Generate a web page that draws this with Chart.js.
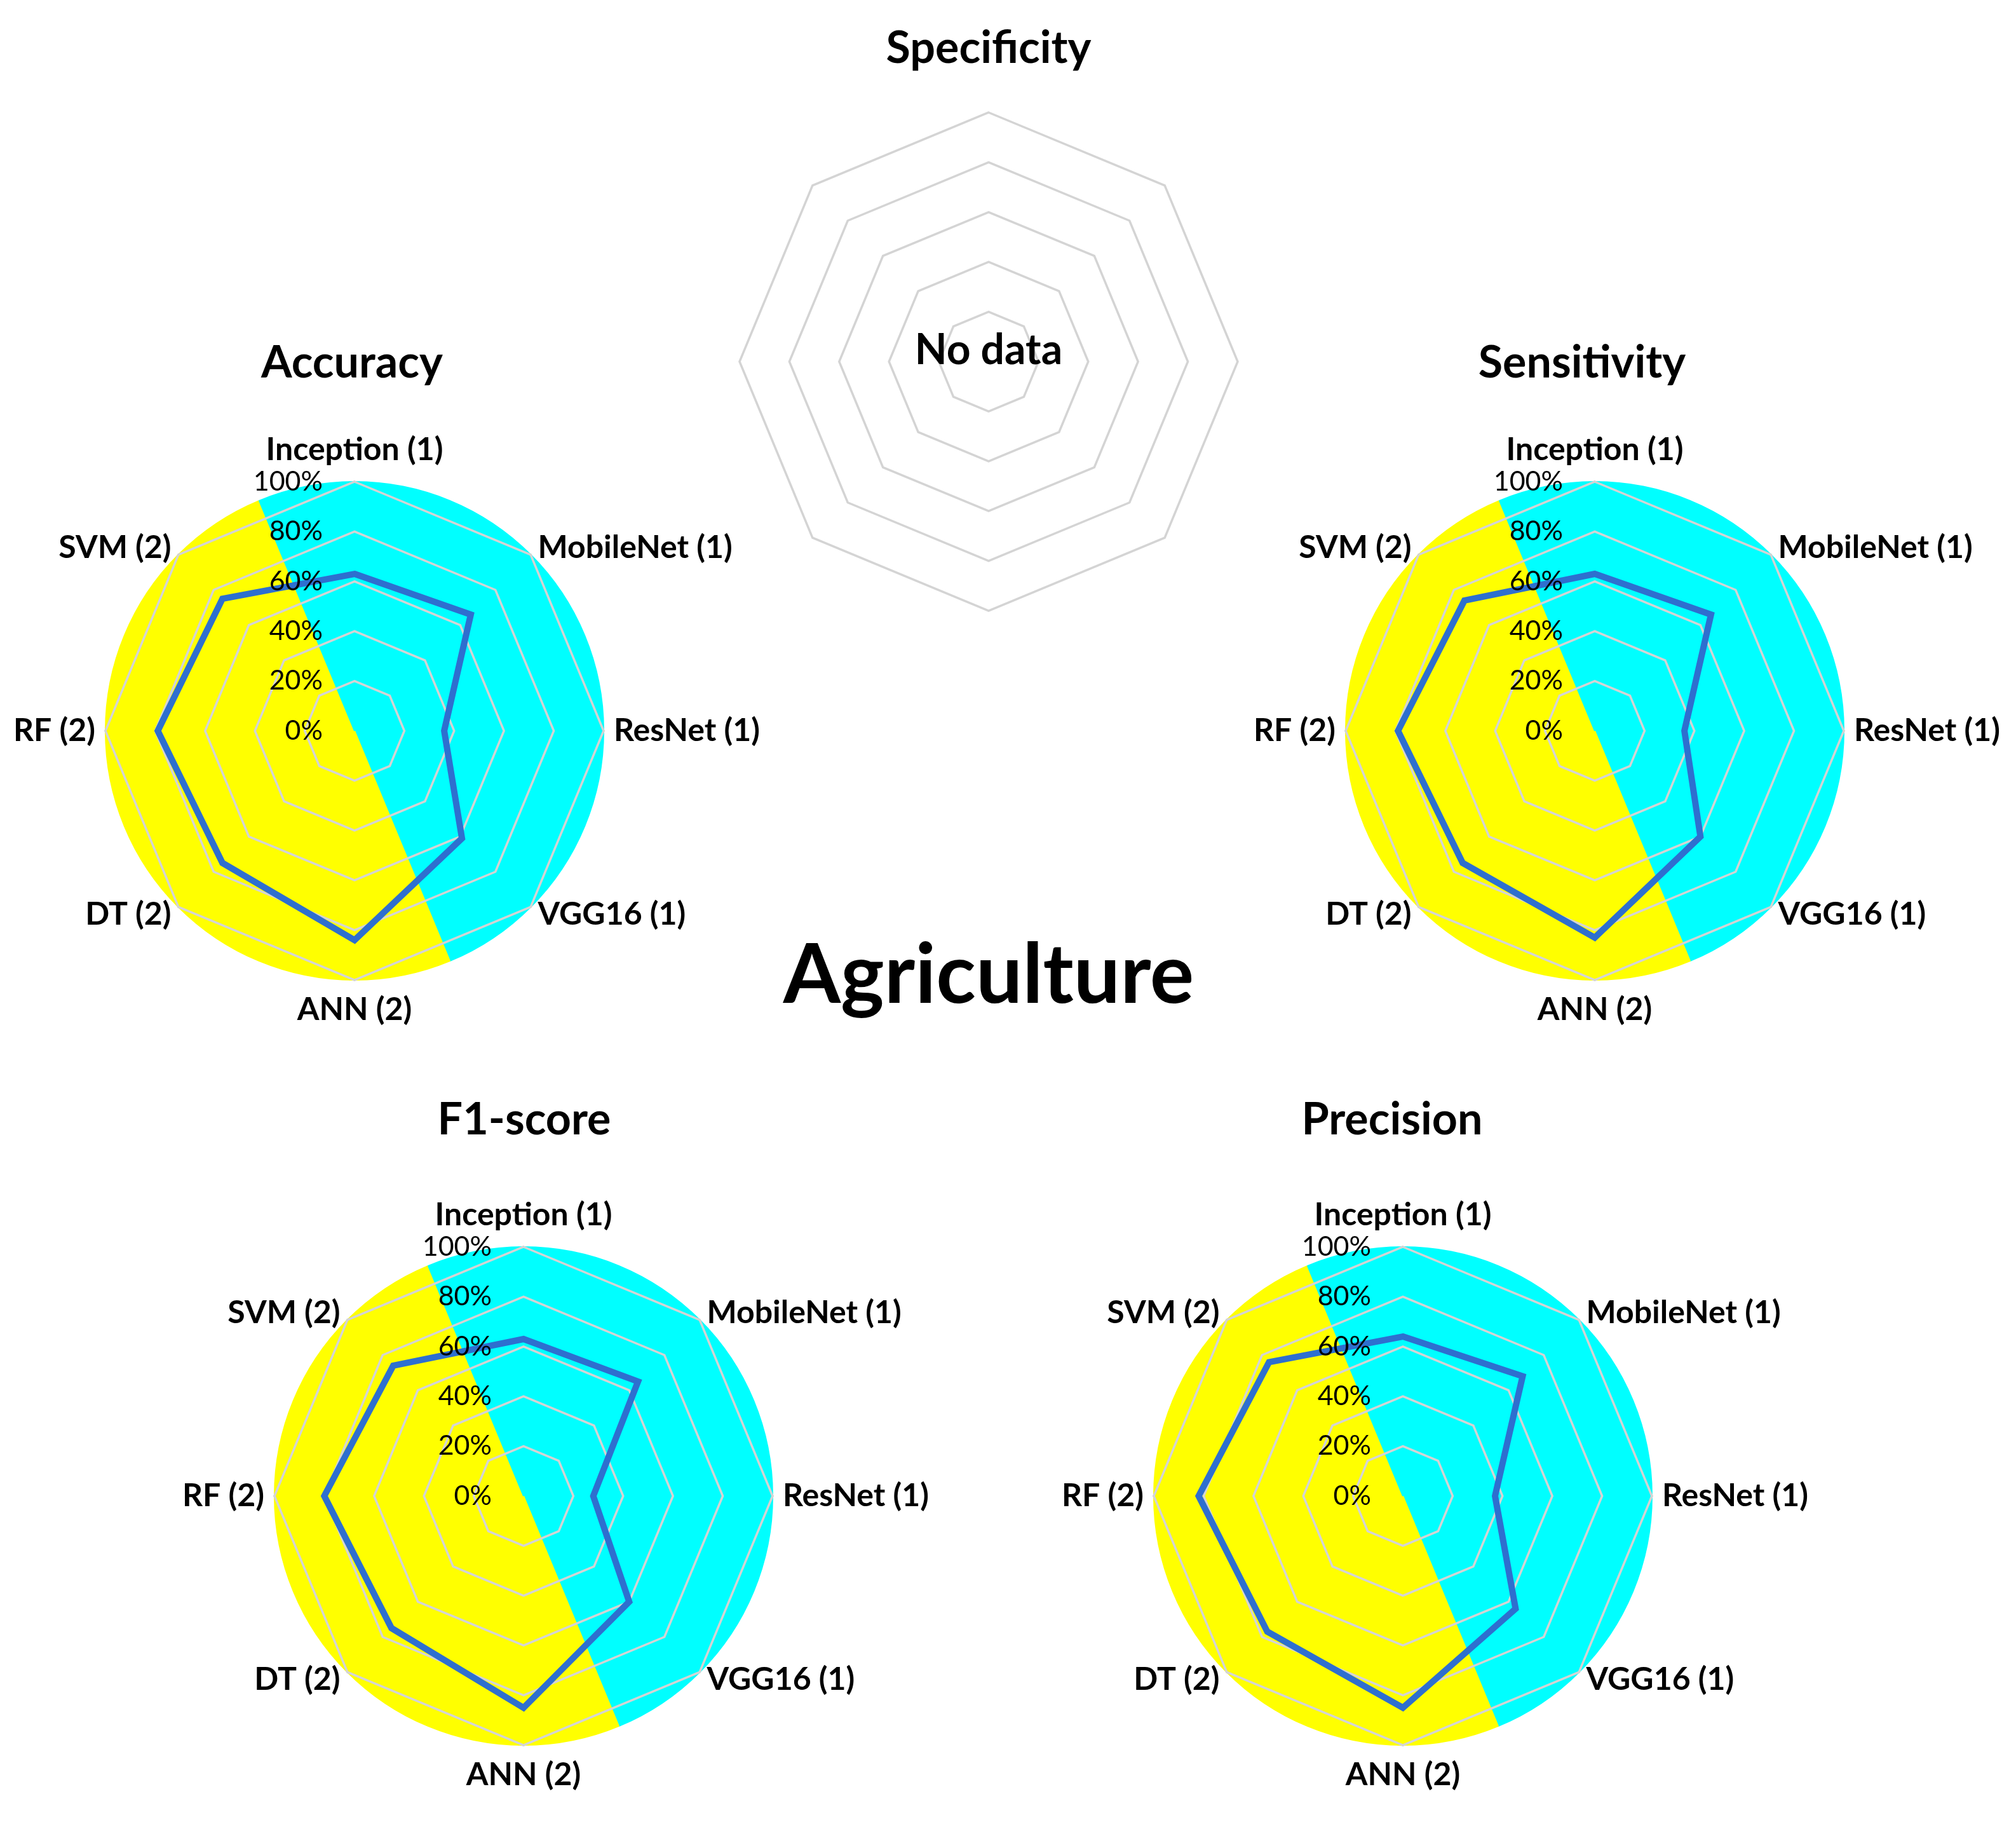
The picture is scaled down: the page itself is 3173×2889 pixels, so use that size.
<!DOCTYPE html>
<html>
<head>
<meta charset="utf-8">
<title>Agriculture</title>
<script src="https://cdn.jsdelivr.net/npm/chart.js@4.4.1/dist/chart.umd.min.js"></script>
<style>
  html, body { margin: 0; padding: 0; background: #fff; }
  #page { position: relative; width: 3173px; height: 2889px; overflow: hidden; background: #fff;
          font-family: Lato, "Open Sans", sans-serif; color: #000; }
  .box { position: absolute; left: 0; top: 0; }
  .label { position: absolute; transform: translate(-50%, -50%); white-space: nowrap;
           font-weight: 700; line-height: 1.2; }
  .title { font-size: 70px; }
  #main { font-size: 130px; }
  #nodata { font-size: 66px; }
</style>
</head>
<body>
<div id="page">
  <div class="box"><canvas id="specificity" width="1600" height="1200"></canvas></div>
  <div class="box"><canvas id="accuracy" width="1600" height="1200"></canvas></div>
  <div class="box"><canvas id="sensitivity" width="1600" height="1200"></canvas></div>
  <div class="box"><canvas id="f1score" width="1600" height="1200"></canvas></div>
  <div class="box"><canvas id="precision" width="1600" height="1200"></canvas></div>

  <div class="label title" style="left:1556px; top:72px;">Specificity</div>
  <div class="label" id="nodata" style="left:1556px; top:548px;">No data</div>
  <div class="label title" style="left:554px; top:567px;">Accuracy</div>
  <div class="label title" style="left:2490px; top:567px;">Sensitivity</div>
  <div class="label title" style="left:825px; top:1758px;">F1-score</div>
  <div class="label title" style="left:2191px; top:1758px;">Precision</div>
  <div class="label" id="main" style="left:1556px; top:1528px;">Agriculture</div>
</div>

<script>
// models on the radar axes, clockwise from the top; (1) deep learning, (2) classic ML
const models = ['Inception (1)', 'MobileNet (1)', 'ResNet (1)', 'VGG16 (1)',
                'ANN (2)', 'DT (2)', 'RF (2)', 'SVM (2)'];
const modelGroups = [1, 1, 1, 1, 2, 2, 2, 2];

// scores in %
const accuracy    = [63, 66, 36, 61, 84, 75, 79, 75];
const sensitivity = [63, 66, 36, 60, 83, 75, 79, 74];
const f1Score     = [63, 65, 28, 60, 85, 75, 80, 74];
const precision   = [64, 68, 37, 64, 85, 77, 82, 76];
const specificity = []; // no data reported

const scaleMin = 0;
const scaleMax = 100;
const scaleStep = 20;

const RADIUS = 392;
const groupColors = { 1: '#00FFFF', 2: '#FFFF00' };
const lineColor = '#2E6FCF';
const gridColor = '#D4D4D4';

const panels = [
    { id: 'specificity', values: specificity, cx: 1556, cy: 569, labelled: false },
    { id: 'accuracy', values: accuracy, cx: 558, cy: 1150, labelled: true },
    { id: 'sensitivity', values: sensitivity, cx: 2510, cy: 1150, labelled: true },
    { id: 'f1score', values: f1Score, cx: 824, cy: 2354, labelled: true },
    { id: 'precision', values: precision, cx: 2208, cy: 2354, labelled: true }
];

// tick labels sit right-aligned just left of the vertical axis, like Excel does it
const tickLabels = {
    id: 'tickLabels',
    afterDatasetsDraw(chart, args, opts) {
        if (!opts.display) return;
        const scale = chart.scales.r;
        const ctx = chart.ctx;
        ctx.save();
        ctx.font = opts.font;
        ctx.fillStyle = opts.color;
        ctx.textAlign = 'right';
        ctx.textBaseline = 'middle';
        scale.ticks.forEach(tick => {
            const y = scale.yCenter - scale.getDistanceFromCenterForValue(tick.value);
            ctx.fillText(tick.label, scale.xCenter - opts.gap, y);
        });
        ctx.restore();
    }
};

// redraw the rings on top of the coloured disc but under the score line
const gridOverDisc = {
    id: 'gridOverDisc',
    beforeDatasetDraw(chart, args) {
        if (args.meta.type !== 'radar') return;
        const scale = chart.scales.r;
        const pointLabels = scale.options.pointLabels;
        const shown = pointLabels.display;
        try {
            pointLabels.display = false;
            scale.drawGrid(chart.chartArea);
        } finally {
            pointLabels.display = shown;
        }
    }
};

// one wedge per model centred on its axis; the top wedge is split in two halves
function discDataset() {
    const owners = models.map((m, i) => i).concat([0]);
    const wedge = 360 / models.length;
    const colour = ctx => groupColors[modelGroups[owners[ctx.dataIndex]]];
    return {
        type: 'polarArea',
        order: 2,
        data: owners.map(() => scaleMax),
        angle: ctx => (ctx.dataIndex === 0 || ctx.dataIndex === models.length) ? wedge / 2 : wedge,
        backgroundColor: colour,
        borderColor: colour,
        borderWidth: 2
    };
}

// labels are centred on their anchor (zero line height), so top and bottom need more room
function labelPadding(ctx) {
    const quarter = models.length / 4;
    return ctx.index % (2 * quarter) === 0 ? (ctx.index === 0 ? 50 : 47) : 16;
}

function buildChart(panel) {
    const datasets = [];
    if (panel.values.length) {
        datasets.push({
            label: panel.id,
            order: 1,
            data: panel.values,
            borderColor: lineColor,
            borderWidth: 10,
            backgroundColor: 'transparent',
            fill: false,
            pointRadius: 0,
            tension: 0
        });
        datasets.push(discDataset());
    }

    const ctx = document.getElementById(panel.id).getContext('2d');
    const chart = new Chart(ctx, {
        type: 'radar',
        data: { labels: models, datasets },
        options: {
            responsive: false,
            animation: false,
            events: [],
            layout: { padding: 100 },
            plugins: {
                legend: { display: false },
                tooltip: { enabled: false },
                tickLabels: {
                    display: panel.labelled,
                    gap: 50,
                    font: '400 43px Lato',
                    color: '#000'
                }
            },
            scales: {
                r: {
                    min: scaleMin,
                    max: scaleMax,
                    startAngle: 0,
                    ticks: {
                        stepSize: scaleStep,
                        display: false,
                        callback: v => v + '%'
                    },
                    grid: { color: gridColor, lineWidth: 3.5, circular: false },
                    angleLines: { display: false },
                    pointLabels: {
                        display: panel.labelled,
                        color: '#000',
                        padding: labelPadding,
                        font: { family: 'Lato', size: 50, weight: 'bold', lineHeight: 0 }
                    }
                }
            }
        },
        plugins: [tickLabels, gridOverDisc]
    });

    // settle the radius, then move the canvas so the centre lands in place
    for (let k = 0; k < 4; k++) {
        const diff = chart.scales.r.drawingArea - RADIUS;
        if (Math.abs(diff) < 0.5) break;
        chart.options.layout.padding += diff;
        chart.update('none');
    }
    const scale = chart.scales.r;
    const box = chart.canvas.parentNode;
    box.style.left = (panel.cx - scale.xCenter) + 'px';
    box.style.top = (panel.cy - scale.yCenter) + 'px';
    return chart;
}

function start() {
    Chart.defaults.font.family = 'Lato';
    panels.forEach(buildChart);
}

const fontsReady = document.fonts
    ? Promise.all([document.fonts.load('bold 50px Lato'), document.fonts.load('43px Lato')])
    : Promise.resolve();
fontsReady.then(start, start);
</script>
</body>
</html>
